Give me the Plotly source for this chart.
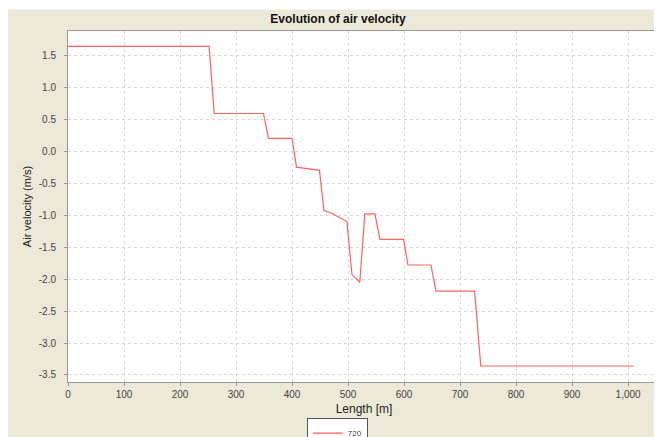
import plotly.graph_objects as go

# Data
length_m = [0, 252, 261, 349, 358, 400, 408, 449, 457, 471, 498, 507, 521,
            530, 548, 557, 599, 607, 648, 657, 726, 737, 1010]
velocity = [1.64, 1.64, 0.59, 0.59, 0.20, 0.20, -0.25, -0.30, -0.93, -0.97,
            -1.10, -1.93, -2.05, -0.98, -0.98, -1.38, -1.38, -1.78, -1.78,
            -2.19, -2.19, -3.36, -3.36]
series_name = "720"

x_tickvals = [0, 100, 200, 300, 400, 500, 600, 700, 800, 900, 1000]
x_ticktext = ["0", "100", "200", "300", "400", "500", "600", "700", "800", "900", "1,000"]
y_tickvals = [1.5, 1.0, 0.5, 0.0, -0.5, -1.0, -1.5, -2.0, -2.5, -3.0, -3.5]
y_ticktext = ["1.5", "1.0", "0.5", "0.0", "-0.5", "-1.0", "-1.5", "-2.0", "-2.5", "-3.0", "-3.5"]

BEIGE = "#ECE9D8"
FONT = "Liberation Sans, Arial, sans-serif"
W, H = 654, 429  # page body has an 8px margin

fig = go.Figure()
fig.add_trace(go.Scatter(
    x=length_m, y=velocity, mode="lines", name=series_name,
    line=dict(color="#FF6262", width=1.2),
    showlegend=True,
))

fig.update_layout(
    width=W, height=H,
    margin=dict(l=60, r=2, t=23, b=55, autoexpand=False),
    paper_bgcolor=BEIGE,
    plot_bgcolor="white",
    font=dict(family=FONT, size=10, color="#444444"),
    title=dict(text="<b>Evolution of air velocity</b>", x=330/W, xref="container",
               xanchor="center", y=1 - 11/H, yref="container", yanchor="middle",
               font=dict(family=FONT, size=12, color="#111111")),
    showlegend=True,
    legend=dict(x=0.455, xref="paper", xanchor="center",
                y=-0.1015, yref="paper", yanchor="top",
                bgcolor="white", bordercolor="#555555", borderwidth=1,
                font=dict(family=FONT, size=8, color="#444444"),
                itemwidth=30, tracegroupgap=0),
    shapes=[
        dict(type="rect", xref="paper", yref="paper", x0=-0.2, x1=1.1,
             y0=1.0613, y1=1.2, fillcolor="white", line=dict(width=0), layer="below"),
    ],
)

fig.update_xaxes(
    range=[0, 1057], tickvals=x_tickvals, ticktext=x_ticktext,
    showgrid=True, gridcolor="#D8D8D8", griddash="3px,3px", gridwidth=1,
    showline=True, linecolor="#999999", linewidth=1, mirror=True,
    ticks="outside", ticklen=3, tickcolor="#999999",
    zeroline=False,
    title=dict(text="Length [m]", font=dict(family=FONT, size=12, color="#222222"), standoff=5),
)
fig.update_yaxes(
    range=[-3.61, 1.88], tickvals=y_tickvals, ticktext=y_ticktext,
    showgrid=True, gridcolor="#D8D8D8", griddash="3px,3px", gridwidth=1,
    showline=True, linecolor="#999999", linewidth=1, mirror=True,
    ticks="outside", ticklen=3, tickcolor="#999999", ticklabelstandoff=6,
    zeroline=False,
    title=dict(text="Air velocity (m/s)", font=dict(family=FONT, size=11, color="#222222"), standoff=4),
)

fig.write_html("out.html")
